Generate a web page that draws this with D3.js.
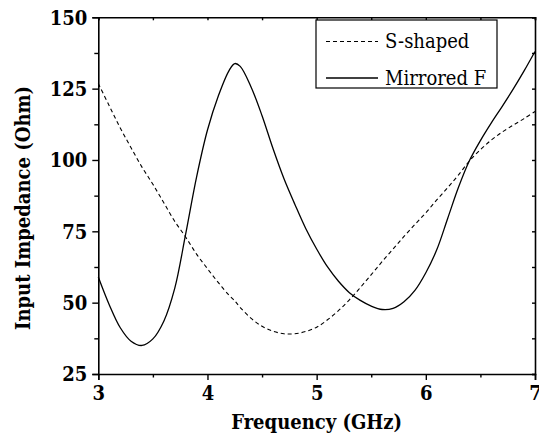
<!DOCTYPE html>
<html>
<head>
<meta charset="utf-8">
<script src="https://cdn.jsdelivr.net/npm/d3@7"></script>
<style>
  body { margin: 0; background: #fff; }
</style>
</head>
<body>
<svg id="chart" width="539" height="439"></svg>
<script>
// frequency samples (GHz)
const freq = [3.0, 3.1, 3.2, 3.3, 3.4, 3.5, 3.6, 3.7, 3.8, 3.9,
              4.0, 4.1, 4.2, 4.25, 4.3, 4.4, 4.5, 4.6, 4.7, 4.8, 4.9,
              5.0, 5.1, 5.2, 5.3, 5.4, 5.5, 5.6, 5.7, 5.8, 5.9,
              6.0, 6.1, 6.2, 6.3, 6.4, 6.5, 6.6, 6.7, 6.8, 6.9, 7.0];

// S-shaped antenna input impedance (Ohm), dashed
const sShaped = [126.8, 119, 111.3, 104.3, 97.5, 91.5, 85, 78.5, 73, 67,
                 61.9, 57, 52.5, 50.6, 48.3, 44.5, 41.7, 40, 39.1, 39.1, 39.9,
                 41.4, 44, 47.2, 51, 55.3, 59.8, 64.4, 68.8, 73.2, 77.4,
                 81.5, 86, 90.3, 94.8, 99.7, 103.6, 107, 109.8, 112.2, 114.5, 117];

// Mirrored F antenna input impedance (Ohm), solid
const mirroredF = [59, 49.3, 41.3, 36.5, 35, 37.3, 43.5, 55, 74, 94,
                   110.5, 122.5, 131.5, 133.8, 132.8, 125.5, 115.5, 104, 93.5, 84.5, 76,
                   68.8, 62.5, 57.5, 53.5, 50.8, 48.8, 47.6, 48, 50.3, 54.3,
                   60.5, 68.5, 79.5, 90.5, 99.8, 106.8, 113, 118.8, 124.8, 131.2, 138];

const seriesNames = ["S-shaped", "Mirrored F"];
const xTicks = [3, 4, 5, 6, 7];
const xMinor = [3.5, 4.5, 5.5, 6.5];
const yTicks = [25, 50, 75, 100, 125, 150];
const yMinor = [37.5, 62.5, 87.5, 112.5, 137.5];

const serif = "'DejaVu Serif Condensed', 'DejaVu Serif', serif";

const margin = { top: 17.3, right: 4, bottom: 65, left: 98.3 };
const svg = d3.select("#chart");
const width = +svg.attr("width") - margin.left - margin.right;
const height = +svg.attr("height") - margin.top - margin.bottom;

const x = d3.scaleLinear().domain([3, 7]).range([0, width]);
const y = d3.scaleLinear().domain([25, 150]).range([height, 0]);

const g = svg.append("g")
    .attr("transform", "translate(" + margin.left + "," + margin.top + ")");

// curves
const line = d3.line()
    .x(d => x(d[0]))
    .y(d => y(d[1]))
    .curve(d3.curveCatmullRom.alpha(0.5));

g.append("path")
    .datum(freq.map((f, i) => [f, sShaped[i]]))
    .attr("fill", "none")
    .attr("stroke", "#000")
    .attr("stroke-width", 1.1)
    .attr("stroke-dasharray", "4,3")
    .attr("d", line);

g.append("path")
    .datum(freq.map((f, i) => [f, mirroredF[i]]))
    .attr("fill", "none")
    .attr("stroke", "#000")
    .attr("stroke-width", 1.3)
    .attr("d", line);

// axes: bottom / left with outward ticks, top / right with inward ticks
function styleAxis(sel) {
    sel.attr("font-family", serif).attr("font-size", 20).attr("font-weight", "bold");
    sel.select(".domain").attr("stroke", "#000").attr("stroke-width", 1.6);
    sel.selectAll(".tick line").attr("stroke", "#000").attr("stroke-width", 1.4);
    sel.selectAll("text").attr("fill", "#000");
}

g.append("g")
    .attr("transform", "translate(0," + height + ")")
    .call(d3.axisBottom(x).tickValues(xTicks).tickSize(6).tickPadding(6).tickFormat(d3.format("d")))
    .call(styleAxis);

g.append("g")
    .attr("transform", "translate(0," + height + ")")
    .call(d3.axisBottom(x).tickValues(xMinor).tickSize(3.5).tickFormat(""))
    .call(styleAxis)
    .call(a => a.select(".domain").remove());

g.append("g")
    .call(d3.axisLeft(y).tickValues(yTicks).tickSize(6).tickPadding(5).tickFormat(d3.format("d")))
    .call(styleAxis)
    .call(a => a.selectAll("text").attr("dy", "0.34em"));

g.append("g")
    .call(d3.axisLeft(y).tickValues(yMinor).tickSize(4).tickFormat(""))
    .call(styleAxis)
    .call(a => a.select(".domain").remove());

g.append("g")
    .call(d3.axisTop(x).tickValues(xTicks.concat(xMinor)).tickSize(-3).tickFormat(""))
    .call(styleAxis);

g.append("g")
    .attr("transform", "translate(" + width + ",0)")
    .call(d3.axisRight(y).tickValues(yTicks.concat(yMinor)).tickSize(-3).tickFormat(""))
    .call(styleAxis);

// axis titles
svg.append("text")
    .attr("font-family", serif)
    .attr("font-weight", "bold")
    .attr("font-size", 20)
    .attr("text-anchor", "middle")
    .attr("x", margin.left + width / 2)
    .attr("y", 429)
    .text("Frequency (GHz)");

svg.append("text")
    .attr("font-family", serif)
    .attr("font-weight", "bold")
    .attr("font-size", 20)
    .attr("text-anchor", "middle")
    .attr("transform", "translate(30,208) rotate(-90)")
    .text("Input Impedance (Ohm)");

// legend
const legend = svg.append("g");
legend.append("rect")
    .attr("x", 316).attr("y", 20)
    .attr("width", 181).attr("height", 68)
    .attr("fill", "#fff")
    .attr("stroke", "#000")
    .attr("stroke-width", 1.2);

legend.selectAll(".entry")
    .data(seriesNames)
    .enter()
    .append("g")
        .attr("class", "entry")
        .attr("transform", (d, i) => "translate(326," + (41.5 + i * 36.5) + ")")
        .each(function(d, i) {
            let e = d3.select(this);
            e.append("line")
                .attr("x1", 0).attr("x2", 52)
                .attr("stroke", "#000")
                .attr("stroke-width", i == 0 ? 1.1 : 1.3)
                .attr("stroke-dasharray", i == 0 ? "4,3" : null);
            e.append("text")
                .attr("font-family", serif)
                .attr("font-size", 20)
                .attr("x", 59)
                .attr("dy", "0.33em")
                .text(d);
        });
</script>
</body>
</html>
